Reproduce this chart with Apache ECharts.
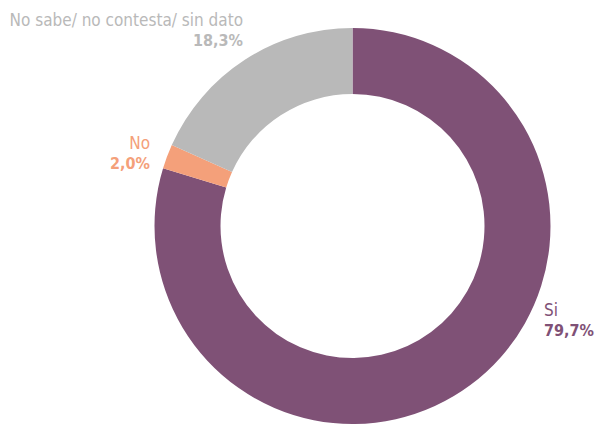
<!DOCTYPE html>
<html>
<head>
<meta charset="utf-8">
<script src="https://cdn.jsdelivr.net/npm/echarts@6/dist/echarts.min.js"></script>
<style>
  html, body { margin: 0; padding: 0; background: #fff; }
  #chart { width: 595px; height: 426px; }
  #chart svg text { font-stretch: condensed !important; }
</style>
</head>
<body>
<div id="chart"></div>
<script>
// datos
var categorias = ['Si', 'No', 'No sabe/ no contesta/ sin dato']
var valores = [79.7, 2.0, 18.3]
var colores = ['#7f5176', '#f4a07a', '#b9b9b9']

// posiciones de etiquetas (x, y, alineacion)
var posEtiquetas = [
  { x: 544, y: 320, align: 'left' },
  { x: 150, y: 153, align: 'right' },
  { x: 243, y: 30, align: 'right' }
]

var fuente = '"DejaVu Sans Condensed", "DejaVu Sans", sans-serif'

function fmt (v) {
  return v.toFixed(1).replace('.', ',') + '%'
}

var datos = categorias.map(function (c, i) {
  return {
    name: c,
    value: valores[i],
    itemStyle: { color: colores[i] },
    label: {
      rich: {
        n: { color: colores[i], fontSize: 17, fontFamily: fuente, lineHeight: 21, align: posEtiquetas[i].align },
        p: { color: colores[i], fontSize: 16, fontWeight: 'bold', fontFamily: fuente, lineHeight: 21, align: posEtiquetas[i].align }
      }
    }
  }
})

var myChart = echarts.init(document.getElementById('chart'), null, { renderer: 'svg' })
myChart.setOption({
  animation: false,
  series: [{
    type: 'pie',
    center: [352.5, 226],
    radius: [132, 198],
    startAngle: 90,
    clockwise: true,
    avoidLabelOverlap: false,
    label: {
      show: true,
      position: 'outside',
      overflow: 'none',
      formatter: function (p) {
        return '{n|' + p.name + '}\n{p|' + fmt(p.value) + '}'
      }
    },
    labelLine: { show: false },
    labelLayout: function (params) {
      var pos = posEtiquetas[params.dataIndex]
      return { x: pos.x, y: pos.y, align: pos.align, verticalAlign: 'middle' }
    },
    emphasis: { disabled: true },
    data: datos
  }]
})
</script>
</body>
</html>
